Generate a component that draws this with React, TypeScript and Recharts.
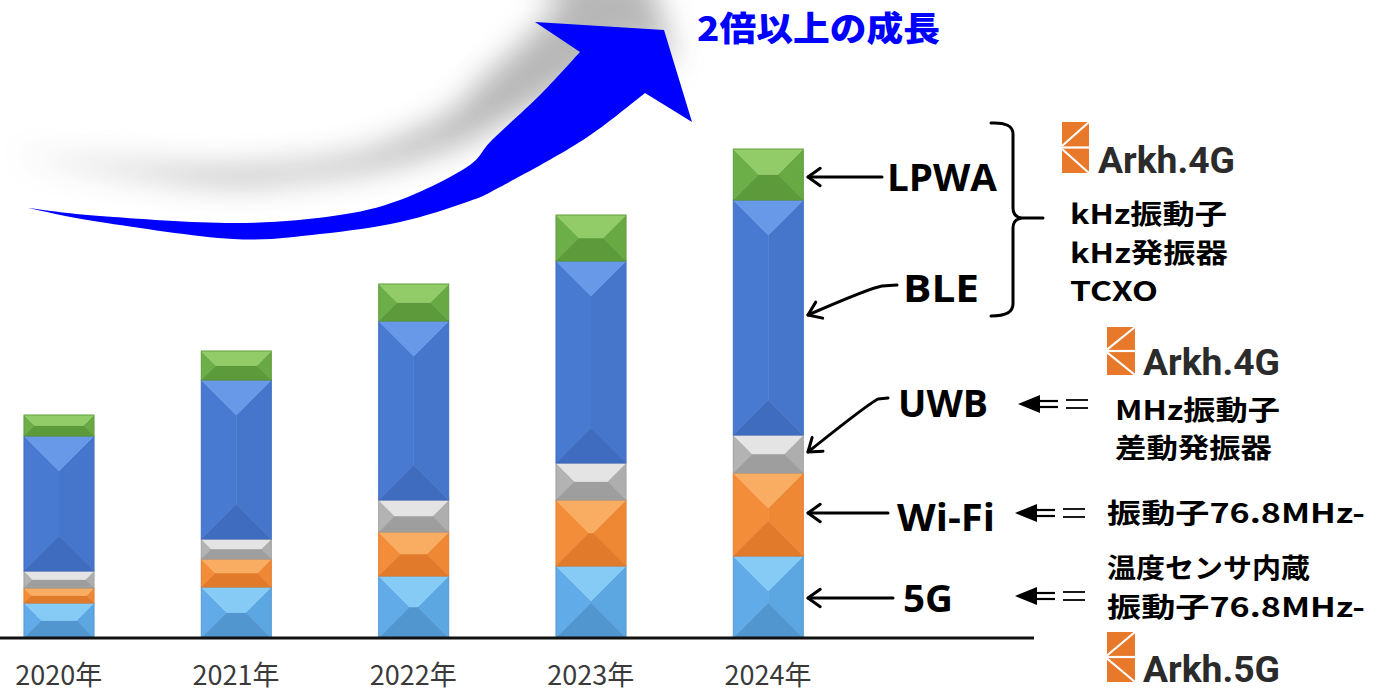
import React from "react";
import { BarChart, Bar, XAxis, YAxis } from "recharts";

// ---- data (arbitrary units) ----
const years = ["2020年", "2021年", "2022年", "2023年", "2024年"];
const fiveG = [35, 51, 62, 72, 82];
const wifi = [15, 28, 44, 66, 83];
const uwb = [17, 20, 32, 37, 38];
const ble = [135, 159, 179, 202, 235];
const lpwa = [21, 29, 37, 46, 51];

const data = [
  ...years.map((y, i) => ({
    year: y,
    g5: fiveG[i],
    wifi: wifi[i],
    uwb: uwb[i],
    ble: ble[i],
    lpwa: lpwa[i],
  })),
  { year: "" },
];

type Pal = { top: string; left: string; right: string; bottom: string };
const PAL: Record<string, Pal> = {
  g5: { top: "#86CBF6", left: "#61ACE8", right: "#5CA6E2", bottom: "#5296D0" },
  wifi: { top: "#F9AD62", left: "#F38D3A", right: "#EF8835", bottom: "#E27A2C" },
  uwb: { top: "#E4E4E4", left: "#B3B3B3", right: "#AEAEAE", bottom: "#9E9E9E" },
  ble: { top: "#6898E8", left: "#497AD1", right: "#4676CC", bottom: "#3F6CBF" },
  lpwa: { top: "#92CC69", left: "#6CAE48", right: "#68A944", bottom: "#5C9A3B" },
};

const pts = (a: number[][]) => a.map((p) => p.join(",")).join(" ");

const makeShape = (p: Pal) => (props: any) => {
  const { x, y, width: w, height: h } = props;
  if (!w || !h || h <= 0) return <g />;
  const t = y, b = y + h, l = x, r = x + w, cx = x + w / 2, cy = y + h / 2;
  let topP, botP, leftP, rightP;
  if (h >= w) {
    const p1 = [cx, t + w / 2], p2 = [cx, b - w / 2];
    topP = [[l, t], [r, t], p1];
    botP = [[l, b], [r, b], p2];
    leftP = [[l, t], p1, p2, [l, b]];
    rightP = [[r, t], p1, p2, [r, b]];
  } else {
    const p1 = [l + h / 2, cy], p2 = [r - h / 2, cy];
    topP = [[l, t], [r, t], p2, p1];
    botP = [[l, b], [r, b], p2, p1];
    leftP = [[l, t], p1, [l, b]];
    rightP = [[r, t], p2, [r, b]];
  }
  return (
    <g>
      <polygon points={pts(leftP)} fill={p.left} stroke={p.left} strokeWidth={0.5} />
      <polygon points={pts(rightP)} fill={p.right} stroke={p.right} strokeWidth={0.5} />
      <polygon points={pts(botP)} fill={p.bottom} stroke={p.bottom} strokeWidth={0.5} />
      <polygon points={pts(topP)} fill={p.top} stroke={p.top} strokeWidth={0.5} />
      <rect x={l} y={t} width={w} height={h} fill="none" stroke={p.bottom} strokeOpacity={0.8} strokeWidth={1} />
    </g>
  );
};

const JP = '"Noto Sans CJK JP", "Noto Sans", sans-serif';
const LAT = '"Open Sans", "Noto Sans", sans-serif';

const YearTick = (props: any) => {
  const { x, y, payload } = props;
  return (
    <text x={x} y={y + 47} textAnchor="middle" fontFamily={JP} fontSize={27} fill="#3a3a3a">
      {payload.value}
    </text>
  );
};

// smooth path through points (Catmull-Rom -> cubic Bezier)
function smooth(p: number[][]) {
  let d = "";
  for (let i = 0; i < p.length - 1; i++) {
    const p0 = p[i - 1] || p[i], p1 = p[i], p2 = p[i + 1], p3 = p[i + 2] || p2;
    const c1 = [p1[0] + (p2[0] - p0[0]) / 6, p1[1] + (p2[1] - p0[1]) / 6];
    const c2 = [p2[0] - (p3[0] - p1[0]) / 6, p2[1] - (p3[1] - p1[1]) / 6];
    d += ` C ${c1[0]} ${c1[1]} ${c2[0]} ${c2[1]} ${p2[0]} ${p2[1]}`;
  }
  return d;
}

const upper = [[28, 208], [100, 216], [233, 223], [333, 216], [400, 200], [467, 167], [492, 140], [540, 95], [580, 52]];
const lower = [[645, 93], [583, 140], [500, 187], [467, 202], [400, 222], [320, 234], [233, 239], [100, 222], [28, 208]];
const swooshPath =
  `M ${upper[0][0]} ${upper[0][1]}` +
  smooth(upper) +
  ` L 535 22 L 664 30 L 692 122 L 645 93` +
  smooth(lower) +
  " Z";

function head(tx: number, ty: number, fx: number, fy: number, len = 15, ang = 0.62) {
  const a = Math.atan2(fy - ty, fx - tx);
  const p1 = [tx + len * Math.cos(a + ang), ty + len * Math.sin(a + ang)];
  const p2 = [tx + len * Math.cos(a - ang), ty + len * Math.sin(a - ang)];
  return `M ${p1[0]} ${p1[1]} L ${tx} ${ty} L ${p2[0]} ${p2[1]}`;
}

const DoubleArrow = ({ x, y }: { x: number; y: number }) => (
  <g>
    <polygon points={`${x},${y} ${x + 22},${y - 9} ${x + 22},${y + 9}`} fill="#000" />
    <line x1={x + 18} y1={y - 3} x2={x + 40} y2={y - 3} stroke="#000" strokeWidth={2.2} />
    <line x1={x + 18} y1={y + 3} x2={x + 40} y2={y + 3} stroke="#000" strokeWidth={2.2} />
    <line x1={x + 48} y1={y - 4} x2={x + 70} y2={y - 4} stroke="#000" strokeWidth={1.8} />
    <line x1={x + 48} y1={y + 4} x2={x + 70} y2={y + 4} stroke="#000" strokeWidth={1.8} />
  </g>
);

const Logo = ({ x, y, w, h, label, tx, tw }: { x: number; y: number; w: number; h: number; label: string; tx: number; tw: number }) => (
  <g>
    <rect x={x} y={y} width={w} height={h} fill="#E8782A" />
    <path d={`M ${x + w} ${y} L ${x} ${y + h * 0.47}`} stroke="#fff" strokeWidth={2.2} />
    <path d={`M ${x} ${y + h * 0.5} L ${x + w} ${y + h * 0.5}`} stroke="#fff" strokeWidth={2.2} />
    <path d={`M ${x} ${y + h * 0.53} L ${x + w} ${y + h}`} stroke="#fff" strokeWidth={2.2} />
    <text x={tx} y={y + h} fontFamily='"Roboto", sans-serif' fontWeight={700} fontSize={36} fill="#2b2b2b" textLength={tw} lengthAdjust="spacingAndGlyphs">
      {label}
    </text>
  </g>
);

const RightText = ({ x, y, w, children }: { x: number; y: number; w: number; children: string }) => (
  <text x={x} y={y} fontFamily={JP} fontWeight={700} fontSize={27} fill="#000" textLength={w} lengthAdjust="spacingAndGlyphs">
    {children}
  </text>
);

const Label = ({ x, y, w, children }: { x: number; y: number; w: number; children: string }) => (
  <text x={x} y={y} fontFamily={LAT} fontWeight={700} fontSize={37} fill="#000" textLength={w} lengthAdjust="spacingAndGlyphs">
    {children}
  </text>
);

export default function App() {
  return (
    <div style={{ position: "absolute", left: 0, top: 0, width: 1380, height: 694, overflow: "hidden", background: "#fff" }}>
      {/* growth swoosh */}
      <svg width={1380} height={694} style={{ position: "absolute", left: 0, top: 0 }}>
        <defs>
          <filter id="blur" x="-30%" y="-80%" width="160%" height="260%">
            <feGaussianBlur stdDeviation="15" />
          </filter>
        </defs>
        <path d={swooshPath} fill="#707070" opacity={0.5} transform="translate(-15,-55)" filter="url(#blur)" />
        <path d={swooshPath} fill="#0000FF" />
        <text x={697} y={41} fontFamily={JP} fontWeight={900} fontSize={34} fill="#0000FF" textLength={243} lengthAdjust="spacingAndGlyphs">
          2倍以上の成長
        </text>
      </svg>

      <div style={{ position: "absolute", left: -30, top: 0 }}>
        <BarChart width={1410} height={694} data={data} margin={{ top: 138, right: 346, bottom: 6, left: 0 }} barSize={70}>
          <XAxis
            dataKey="year"
            tickLine={false}
            tickSize={0}
            tickMargin={0}
            axisLine={{ stroke: "#111", strokeWidth: 3 }}
            tick={<YearTick />}
            height={50}
            interval={0}
          />
          <YAxis hide domain={[0, 500]} />
          <Bar dataKey="g5" stackId="s" isAnimationActive={false} shape={makeShape(PAL.g5)} />
          <Bar dataKey="wifi" stackId="s" isAnimationActive={false} shape={makeShape(PAL.wifi)} />
          <Bar dataKey="uwb" stackId="s" isAnimationActive={false} shape={makeShape(PAL.uwb)} />
          <Bar dataKey="ble" stackId="s" isAnimationActive={false} shape={makeShape(PAL.ble)} />
          <Bar dataKey="lpwa" stackId="s" isAnimationActive={false} shape={makeShape(PAL.lpwa)} />
        </BarChart>
      </div>

      {/* annotations */}
      <svg width={1380} height={694} style={{ position: "absolute", left: 0, top: 0, pointerEvents: "none" }}>
        <g stroke="#000" strokeWidth={3} fill="none" strokeLinecap="round" strokeLinejoin="round">
          <path d="M 808 177 L 882 177" />
          <path d={head(808, 177, 882, 177)} />
          <path d="M 897 285 L 882 286 Q 870 288 808 315" />
          <path d={head(808, 315, 870, 288)} />
          <path d="M 888 398 L 878 399 Q 868 404 808 452" />
          <path d={head(808, 452, 868, 404)} />
          <path d="M 808 513 L 888 513" />
          <path d={head(808, 513, 888, 513)} />
          <path d="M 808 598 L 893 598" />
          <path d={head(808, 598, 893, 598)} />
          {/* brace */}
          <path d="M 991 123 Q 1013 122 1013 134 L 1013 208 Q 1013 217 1022 218 L 1043 218 M 1022 218 Q 1013 219 1013 228 L 1013 304 Q 1013 316 991 316" />
        </g>

        <Label x={887} y={191} w={110}>LPWA</Label>
        <Label x={903} y={302} w={76}>BLE</Label>
        <Label x={898} y={417} w={90}>UWB</Label>
        <Label x={897} y={531} w={98}>Wi-Fi</Label>
        <Label x={903} y={612} w={50}>5G</Label>

        <DoubleArrow x={1018} y={404} />
        <DoubleArrow x={1015} y={513} />
        <DoubleArrow x={1015} y={596} />

        <Logo x={1062} y={122} w={27} h={51} label="Arkh.4G" tx={1098} tw={137} />
        <Logo x={1107} y={327} w={28} h={48} label="Arkh.4G" tx={1143} tw={137} />
        <Logo x={1107} y={632} w={28} h={50} label="Arkh.5G" tx={1143} tw={137} />

        <RightText x={1070} y={224} w={157}>kHz振動子</RightText>
        <RightText x={1070} y={263} w={158}>kHz発振器</RightText>
        <RightText x={1070} y={301} w={88}>TCXO</RightText>
        <RightText x={1115} y={420} w={165}>MHz振動子</RightText>
        <RightText x={1115} y={458} w={157}>差動発振器</RightText>
        <RightText x={1107} y={523} w={258}>振動子76.8MHz-</RightText>
        <RightText x={1107} y={578} w={203}>温度センサ内蔵</RightText>
        <RightText x={1107} y={617} w={258}>振動子76.8MHz-</RightText>
      </svg>
    </div>
  );
}
